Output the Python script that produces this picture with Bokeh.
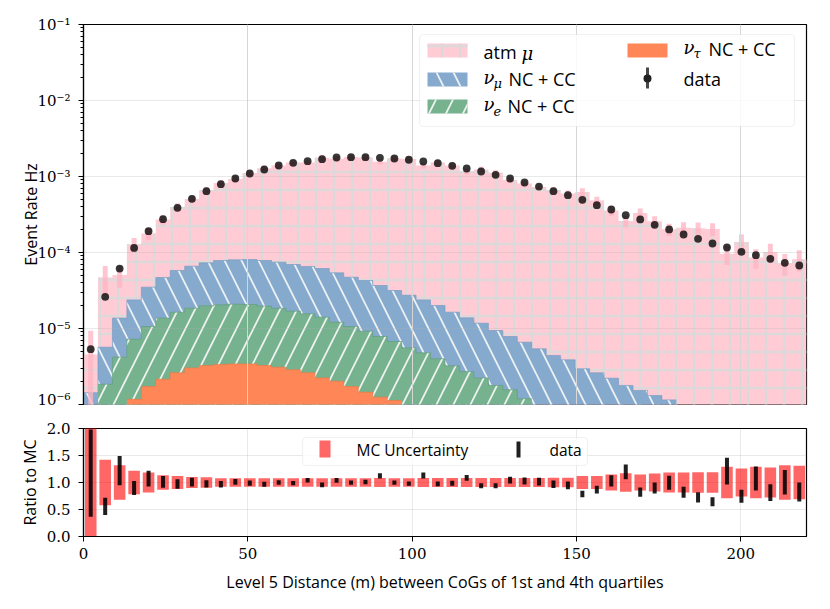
import numpy as np
from bokeh.plotting import figure
from bokeh.layouts import column
from bokeh.models import (Range1d, FixedTicker, CustomJSTickFormatter, Grid, Label,
                          BoxAnnotation, NumeralTickFormatter)
from bokeh.embed import file_html
from bokeh.resources import INLINE

# ---------------- data ----------------
bin_width = 4.4
n_bins = 50
x_lo, x_hi = 0.0, 220.0

data_rate = [5.34e-6, 2.61e-5, 6.15e-5, 1.15e-4, 1.91e-4, 2.74e-4, 3.87e-4, 5.09e-4, 6.41e-4, 7.92e-4,
             9.41e-4, 1.095e-3, 1.236e-3, 1.395e-3, 1.514e-3, 1.59e-3, 1.69e-3, 1.778e-3, 1.795e-3, 1.795e-3,
             1.762e-3, 1.726e-3, 1.66e-3, 1.575e-3, 1.496e-3, 1.383e-3, 1.274e-3, 1.164e-3, 1.052e-3, 9.41e-4,
             8.34e-4, 7.38e-4, 6.41e-4, 5.68e-4, 4.93e-4, 4.19e-4, 3.68e-4, 3.10e-4, 2.72e-4, 2.31e-4,
             2.01e-4, 1.726e-4, 1.514e-4, 1.313e-4, 1.164e-4, 1.021e-4, 9.21e-5, 8.26e-5, 7.31e-5, 6.74e-5]

# top of the stacked MC (atm mu on top of the neutrinos)
atm_mu_stack = [4.55e-6, 4.69e-5, 5.04e-5, 1.28e-4, 1.78e-4, 2.71e-4, 3.98e-4, 5.06e-4, 6.57e-4, 8.20e-4,
                9.30e-4, 1.108e-3, 1.28e-3, 1.395e-3, 1.53e-3, 1.525e-3, 1.766e-3, 1.71e-3, 1.80e-3, 1.777e-3,
                1.569e-3, 1.73e-3, 1.694e-3, 1.394e-3, 1.534e-3, 1.40e-3, 1.173e-3, 1.237e-3, 1.118e-3, 9.02e-4,
                8.11e-4, 7.27e-4, 6.62e-4, 5.99e-4, 6.26e-4, 4.83e-4, 3.57e-4, 2.59e-4, 3.31e-4, 2.57e-4,
                2.02e-4, 2.11e-4, 2.09e-4, 2.04e-4, 9.62e-5, 1.372e-4, 8.58e-5, 1.017e-4, 7.27e-5, 8.18e-5]

nu_mu_stack = [1.43e-6, 5.68e-6, 1.37e-5, 2.38e-5, 3.50e-5, 4.69e-5, 5.80e-5, 6.61e-5, 7.31e-5, 7.85e-5,
               8.02e-5, 8.07e-5, 7.85e-5, 7.46e-5, 6.95e-5, 6.55e-5, 6.15e-5, 5.40e-5, 4.73e-5, 4.28e-5,
               3.68e-5, 3.16e-5, 2.74e-5, 2.38e-5, 2.01e-5, 1.64e-5, 1.38e-5, 1.175e-5, 9.41e-6, 7.85e-6,
               6.61e-6, 5.40e-6, 4.42e-6, 3.87e-6, 2.95e-6, 2.61e-6, 2.22e-6, 1.78e-6, 1.53e-6, 1.31e-6,
               1.15e-6, None, None, None, None, None, None, None, None, None]

nu_e_stack = [None, 1.85e-6, 4.20e-6, 7.23e-6, 1.06e-5, 1.37e-5, 1.64e-5, 1.85e-5, 1.99e-5, 2.05e-5,
              2.09e-5, 2.07e-5, 1.97e-5, 1.85e-5, 1.69e-5, 1.56e-5, 1.41e-5, 1.21e-5, 1.06e-5, 9.22e-6,
              7.85e-6, 6.75e-6, 5.57e-6, 4.79e-6, 3.99e-6, 3.23e-6, 2.72e-6, 2.24e-6, 1.78e-6, 1.56e-6,
              1.19e-6, None, None, None, None, None, None, None, None, None,
              None, None, None, None, None, None, None, None, None, None]

nu_tau = [None, None, None, 1.17e-6, 1.72e-6, 2.15e-6, 2.61e-6, 3.03e-6, 3.26e-6, 3.36e-6,
          3.42e-6, 3.42e-6, 3.26e-6, 3.10e-6, 2.86e-6, 2.61e-6, 2.24e-6, 2.03e-6, 1.72e-6, 1.45e-6,
          1.25e-6, 1.13e-6, None, None, None, None, None, None, None, None,
          None, None, None, None, None, None, None, None, None, None,
          None, None, None, None, None, None, None, None, None, None]

mc_rel_unc = [1.05, 0.42, 0.32, 0.216, 0.185, 0.135, 0.12, 0.10, 0.095, 0.08,
              0.08, 0.08, 0.08, 0.08, 0.08, 0.08, 0.08, 0.08, 0.08, 0.08,
              0.085, 0.08, 0.08, 0.085, 0.085, 0.085, 0.085, 0.085, 0.085, 0.085,
              0.085, 0.085, 0.09, 0.09, 0.12, 0.12, 0.15, 0.17, 0.15, 0.165,
              0.185, 0.185, 0.19, 0.19, 0.29, 0.26, 0.29, 0.28, 0.318, 0.31]

ratio_err = [0.81, 0.16, 0.27, 0.13, 0.145, 0.11, 0.09, 0.08, 0.068, 0.06,
             0.055, 0.05, 0.046, 0.043, 0.04, 0.043, 0.043, 0.043, 0.04, 0.043,
             0.05, 0.04, 0.04, 0.055, 0.043, 0.046, 0.055, 0.046, 0.046, 0.062,
             0.065, 0.071, 0.068, 0.071, 0.059, 0.071, 0.105, 0.136, 0.086, 0.102,
             0.13, 0.102, 0.096, 0.083, 0.247, 0.12, 0.222, 0.157, 0.228, 0.176]

x_ticks = [0, 50, 100, 150, 200]
y_ticks_top = [1e-6, 1e-5, 1e-4, 1e-3, 1e-2, 1e-1]
y_ticks_ratio = [0.0, 0.5, 1.0, 1.5, 2.0]

# ---------------- derived ----------------
edges = np.arange(n_bins + 1) * bin_width
centers = edges[:-1] + bin_width / 2
data_arr = np.array(data_rate)
mc_arr = np.array(atm_mu_stack)
unc_arr = np.array(mc_rel_unc)
ratio = data_arr / mc_arr
rerr = np.array(ratio_err)

FLOOR = 1e-8


def step_outline(vals):
    idx = [i for i, v in enumerate(vals) if v]
    i0, i1 = idx[0], idx[-1]
    xs, ys = [edges[i0]], [FLOOR]
    for i in range(i0, i1 + 1):
        v = vals[i] if vals[i] else FLOOR
        xs += [edges[i], edges[i + 1]]
        ys += [v, v]
    xs.append(edges[i1 + 1])
    ys.append(FLOOR)
    return xs, ys


SANS = "Open Sans"
SERIF = "DejaVu Serif"
GRID_COLOR = "#b0b0b0"
GRID_ALPHA = 0.28
TXT = "black"

# geometry of frames in page pixels (used only to place the hand-made legends)
FL, FW = 83.0, 723.0
TOP_T, DEC_PX = 24.0, 76.0
BOT_T, BOT_H = 428.0, 108.0


def fx(px):
    return x_lo + (px - FL) / FW * (x_hi - x_lo)


def fy(py):
    return 10 ** (-1 - (py - TOP_T) / DEC_PX)


def fy2(py):
    return 2.0 - (py - BOT_T) / BOT_H * 2.0


# ---------------- top panel ----------------
p = figure(width=822, height=408, x_range=Range1d(x_lo, x_hi), y_range=Range1d(1e-6, 1e-1),
           y_axis_type="log", x_axis_location=None, output_backend="svg", toolbar_location=None,
           min_border_left=83, min_border_right=16, min_border_top=24, min_border_bottom=4)
p.outline_line_color = "black"
p.outline_line_width = 1.2
p.background_fill_color = "white"

PINK, BLUE, GREEN, ORANGE = "#ffccd5", "#86aace", "#77b28f", "#ff8757"
PINK_HATCH = "#ddd8d9"
series = [
    (atm_mu_stack, PINK, "+", PINK_HATCH, 18, 2.4, None),
    (nu_mu_stack, BLUE, "\\", "#eef2f5", 34, 1.7, "#6f97c1"),
    (nu_e_stack, GREEN, "/", "#eef3ef", 34, 1.7, "#5e9b77"),
    (nu_tau, ORANGE, None, None, None, None, "#f27440"),
]
for vals, col, hp, hc, hs, hw, lc in series:
    xs, ys = step_outline(vals)
    kw = dict(fill_color=col, fill_alpha=1.0, line_color=None)
    if hp:
        kw.update(hatch_pattern=hp, hatch_color=hc, hatch_scale=hs, hatch_weight=hw)
    r = p.patch(xs, ys, **kw)
    r.level = "image"
    if lc:
        r2 = p.line(xs[1:-1], ys[1:-1], line_color=lc, line_width=1, line_alpha=0.6)
        r2.level = "image"

# pink MC uncertainty bars
lo = np.maximum(mc_arr * (1 - unc_arr), FLOOR)
hi = mc_arr * (1 + unc_arr)
r = p.segment(x0=centers, y0=lo, x1=centers, y1=hi, line_color="#ffb3c2", line_alpha=0.75,
              line_width=5, line_cap="butt")
r.level = "image"

p.scatter(centers, data_arr, size=7.8, fill_color="black", fill_alpha=0.78, line_color=None)

# axes / grid
yminor = [m * 10.0 ** e for e in range(-6, -1) for m in range(2, 10)]
p.yaxis.ticker = FixedTicker(ticks=y_ticks_top, minor_ticks=yminor)
p.yaxis.formatter = CustomJSTickFormatter(code="""
const sup = {'-':'\u207b','0':'\u2070','1':'\u00b9','2':'\u00b2','3':'\u00b3','4':'\u2074',
             '5':'\u2075','6':'\u2076','7':'\u2077','8':'\u2078','9':'\u2079'};
const e = Math.round(Math.log10(tick));
return '10' + String(e).split('').map(c => sup[c]).join('');
""")
p.ygrid.grid_line_color = GRID_COLOR
p.ygrid.grid_line_alpha = GRID_ALPHA
p.ygrid.grid_line_width = 1
xg = Grid(dimension=0, ticker=FixedTicker(ticks=x_ticks), grid_line_color=GRID_COLOR,
          grid_line_alpha=GRID_ALPHA, grid_line_width=1)
p.add_layout(xg)

ax = p.yaxis[0]
ax.axis_label = "Event Rate Hz"
ax.axis_label_text_font = SANS
ax.axis_label_text_font_style = "normal"
ax.axis_label_text_font_size = "16px"
ax.axis_label_text_color = TXT
ax.axis_label_standoff = -8
ax.major_label_text_font = SERIF
ax.major_label_text_font_size = "15px"
ax.major_label_text_color = TXT
ax.major_label_standoff = 8
ax.major_tick_out = 5
ax.major_tick_in = 0
ax.minor_tick_out = 3
ax.minor_tick_in = 0
ax.axis_line_width = 1.2
ax.axis_line_color = "black"
ax.major_tick_line_color = "black"
ax.minor_tick_line_color = "black"

# top legend (hand-made)
p.add_layout(BoxAnnotation(left=fx(419), right=fx(794), top=fy(34), bottom=fy(126),
                           fill_color="white", fill_alpha=0.82, line_color="#cfcfcf",
                           line_width=1.2, border_radius=4, level="overlay"))
sw = [
    (427, 467, 43, 57, PINK, "+", PINK_HATCH, 18, 2.4),
    (427, 467, 72, 86, BLUE, "\\", "#eef2f5", 34, 1.7),
    (427, 467, 99, 113, GREEN, "/", "#eef3ef", 34, 1.7),
    (627, 667, 43, 57, ORANGE, None, None, None, None),
]
for l, rgt, t, b, col, hp, hc, hs, hw in sw:
    kw = dict(left=fx(l), right=fx(rgt), top=fy(t), bottom=fy(b), fill_color=col, fill_alpha=1,
              line_color=None, level="overlay")
    if hp:
        kw.update(hatch_pattern=hp, hatch_color=hc, hatch_scale=hs, hatch_weight=hw)
    p.add_layout(BoxAnnotation(**kw))
# data swatch: error bar + dot
p.add_layout(BoxAnnotation(left=fx(645.5), right=fx(648.5), top=fy(67), bottom=fy(88),
                           fill_color="#333333", fill_alpha=0.9, line_color=None, level="overlay"))
p.add_layout(BoxAnnotation(left=fx(643), right=fx(651), top=fy(74), bottom=fy(82),
                           fill_color="#222222", fill_alpha=1, line_color=None, border_radius=4,
                           level="overlay"))


def lab(fig, xpx, ypx, txt, size="18px", font=SANS, style="normal", conv=fy):
    fig.add_layout(Label(x=fx(xpx), y=conv(ypx), text=txt, text_font=font, text_font_size=size,
                         text_font_style=style, text_baseline="middle", text_align="left",
                         text_color=TXT, level="overlay"))


lab(p, 483, 51, "atm")
lab(p, 521, 53, "\u03bc", font=SERIF, style="italic", size="18px")
lab(p, 483, 77, "\u03bd", font=SERIF, style="italic", size="18px")
lab(p, 493, 83, "\u03bc", font=SERIF, style="italic", size="13px")
lab(p, 508, 78, "NC + CC")
lab(p, 483, 104, "\u03bd", font=SERIF, style="italic", size="18px")
lab(p, 493, 110, "e", font=SERIF, style="italic", size="13px")
lab(p, 507, 105, "NC + CC")
lab(p, 683, 47, "\u03bd", font=SERIF, style="italic", size="18px")
lab(p, 693, 53, "\u03c4", font=SERIF, style="italic", size="13px")
lab(p, 708, 48, "NC + CC")
lab(p, 683, 78, "data")

# ---------------- ratio panel ----------------
q = figure(width=822, height=188, x_range=p.x_range, y_range=Range1d(0, 2),
           output_backend="svg", toolbar_location=None,
           min_border_left=83, min_border_right=16, min_border_top=20, min_border_bottom=60)
q.outline_line_color = "black"
q.outline_line_width = 1.2

q.quad(left=centers - 0.4 * bin_width, right=centers + 0.4 * bin_width,
       bottom=1 - unc_arr, top=1 + unc_arr, fill_color="red", fill_alpha=0.6, line_color=None)
q.segment(x0=centers, y0=ratio - rerr, x1=centers, y1=ratio + rerr, line_color="black",
          line_alpha=0.88, line_width=4, line_cap="butt")

q.xaxis.ticker = FixedTicker(ticks=x_ticks)
q.yaxis.ticker = FixedTicker(ticks=y_ticks_ratio)
q.yaxis.formatter = NumeralTickFormatter(format="0.0")
for g in (q.xgrid, q.ygrid):
    g.grid_line_color = GRID_COLOR
    g.grid_line_alpha = GRID_ALPHA
    g.grid_line_width = 1

q.xaxis.axis_label = "Level 5 Distance (m) between CoGs of 1st and 4th quartiles"
q.yaxis.axis_label = "Ratio to MC"
for ax in (q.xaxis[0], q.yaxis[0]):
    ax.axis_label_text_font = SANS
    ax.axis_label_text_font_style = "normal"
    ax.axis_label_text_font_size = "16px"
    ax.axis_label_text_color = TXT
    ax.major_label_text_font = SERIF
    ax.major_label_text_font_size = "15px"
    ax.major_label_text_color = TXT
    ax.major_tick_out = 5
    ax.major_tick_in = 0
    ax.minor_tick_out = 0
    ax.minor_tick_in = 0
    ax.axis_line_width = 1.2
    ax.axis_line_color = "black"
    ax.major_tick_line_color = "black"
q.yaxis.major_label_standoff = 8
q.yaxis.axis_label_standoff = 3
q.xaxis.major_label_standoff = 6
q.xaxis.axis_label_standoff = 9

# ratio legend (hand-made)
q.add_layout(BoxAnnotation(left=fx(302), right=fx(587), top=fy2(437), bottom=fy2(465),
                           fill_color="white", fill_alpha=0.82, line_color="#cfcfcf",
                           line_width=1.2, border_radius=4, level="overlay"))
q.add_layout(BoxAnnotation(left=fx(319), right=fx(330), top=fy2(440), bottom=fy2(457),
                           fill_color="red", fill_alpha=0.6, line_color=None, level="overlay"))
q.add_layout(BoxAnnotation(left=fx(516), right=fx(520), top=fy2(441), bottom=fy2(457),
                           fill_color="black", fill_alpha=0.88, line_color=None, level="overlay"))
lab(q, 356, 449, "MC Uncertainty", size="15.5px", conv=fy2)
lab(q, 549, 449, "data", size="15.5px", conv=fy2)

layout = column(p, q)
open("out.html", "w").write(file_html(layout, INLINE))
